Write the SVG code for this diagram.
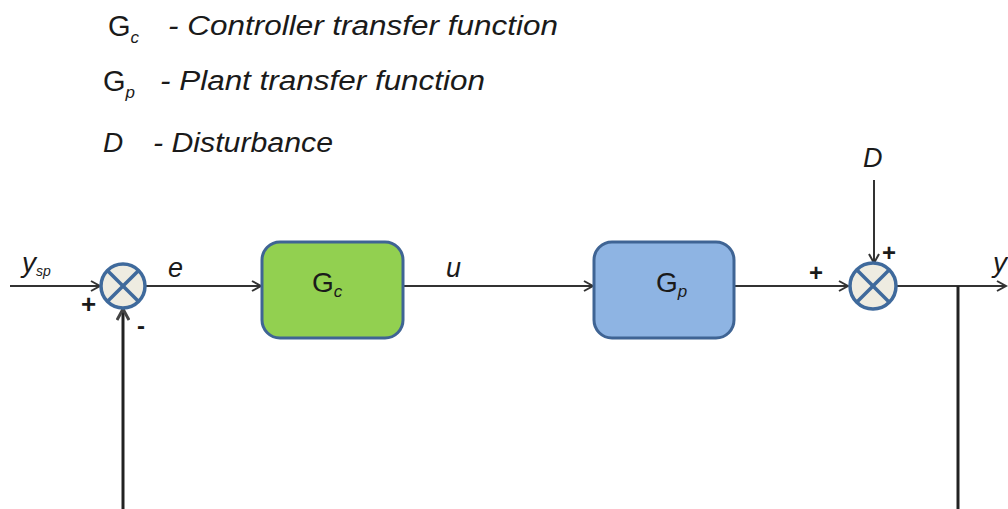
<svg xmlns="http://www.w3.org/2000/svg" width="1008" height="509" viewBox="0 0 1008 509">
  <defs>
    <style>
      .t { font-family: "Liberation Sans", Arial, sans-serif; fill: #1a1a1a; }
      .it { font-style: italic; }
      .wire { stroke: #333; stroke-width: 2; fill: none; }
      .fb { stroke: #222; stroke-width: 3; fill: none; }
      .box { stroke: #3f6494; stroke-width: 3; }
      .sum { fill: #eeece1; stroke: #3f6a9c; stroke-width: 3.5; }
      .cross { stroke: #3f6a9c; stroke-width: 3.5; }
    </style>
    <marker id="open" markerWidth="12" markerHeight="12" refX="10" refY="6" orient="auto" markerUnits="userSpaceOnUse">
      <path d="M1,1 L10,6 L1,11" fill="none" stroke="#333" stroke-width="2"/>
    </marker>
    <marker id="openB" markerWidth="14" markerHeight="14" refX="12" refY="7" orient="auto" markerUnits="userSpaceOnUse">
      <path d="M1,1 L12,7 L1,13" fill="none" stroke="#444" stroke-width="3"/>
    </marker>
  </defs>

  <!-- legend -->
  <g id="legend">
    <text class="t" x="108" y="36" font-size="29">G<tspan class="it" font-size="17" dy="7">c</tspan></text>
    <text class="t it" x="168" y="35" font-size="27" textLength="390" lengthAdjust="spacingAndGlyphs">- Controller transfer function</text>
    <text class="t" x="103" y="91" font-size="29">G<tspan class="it" font-size="17" dy="7">p</tspan></text>
    <text class="t it" x="160" y="90" font-size="27" textLength="325" lengthAdjust="spacingAndGlyphs">- Plant transfer function</text>
    <text class="t it" x="103" y="152" font-size="28">D</text>
    <text class="t it" x="153" y="152" font-size="27" textLength="180" lengthAdjust="spacingAndGlyphs">- Disturbance</text>
  </g>

  <!-- connectors -->
  <g id="connectors">
    <line class="wire" x1="10" y1="286" x2="100" y2="286" marker-end="url(#open)"/>
    <line class="wire" x1="146" y1="286" x2="261" y2="286" marker-end="url(#open)"/>
    <line class="wire" x1="404" y1="286" x2="593" y2="286" marker-end="url(#open)"/>
    <line class="wire" x1="735" y1="286" x2="848" y2="286" marker-end="url(#open)"/>
    <line class="wire" x1="874" y1="180" x2="874" y2="263" marker-end="url(#open)"/>
    <line class="wire" x1="897" y1="286" x2="1006" y2="286" marker-end="url(#open)"/>
    <line class="fb" x1="958" y1="286" x2="958" y2="509"/>
    <line class="fb" x1="123" y1="509" x2="123" y2="309" marker-end="url(#openB)"/>
  </g>

  <!-- signal labels -->
  <g id="labels">
    <text class="t it" x="22" y="272" font-size="28">y<tspan font-size="14" dy="4">sp</tspan></text>
    <text class="t" x="81" y="313" font-size="26" font-weight="bold">+</text>
    <text class="t" x="137" y="334" font-size="24" font-weight="bold">-</text>
    <text class="t it" x="168" y="277" font-size="27">e</text>
    <text class="t it" x="446" y="277" font-size="27">u</text>
    <text class="t" x="809" y="281" font-size="24" font-weight="bold">+</text>
    <text class="t" x="882" y="261" font-size="24" font-weight="bold">+</text>
    <text class="t it" x="863" y="167" font-size="27">D</text>
    <text class="t it" x="993" y="272" font-size="28">y</text>
  </g>

  <g id="sum1">
    <circle class="sum" cx="123" cy="286" r="22"/>
    <line class="cross" x1="107.4" y1="270.4" x2="138.6" y2="301.6"/>
    <line class="cross" x1="138.6" y1="270.4" x2="107.4" y2="301.6"/>
  </g>

  <g id="Gc">
    <rect class="box" x="262" y="242" width="141" height="96" rx="18" fill="#92d050"/>
    <text class="t" x="312" y="292" font-size="28">G<tspan class="it" font-size="17" dy="5">c</tspan></text>
  </g>

  <g id="Gp">
    <rect class="box" x="594" y="242" width="140" height="96" rx="18" fill="#8eb4e3"/>
    <text class="t" x="656" y="292" font-size="28">G<tspan class="it" font-size="17" dy="5">p</tspan></text>
  </g>

  <g id="sum2">
    <circle class="sum" cx="873" cy="286" r="23"/>
    <line class="cross" x1="856.7" y1="269.7" x2="889.3" y2="302.3"/>
    <line class="cross" x1="889.3" y1="269.7" x2="856.7" y2="302.3"/>
  </g>
</svg>
